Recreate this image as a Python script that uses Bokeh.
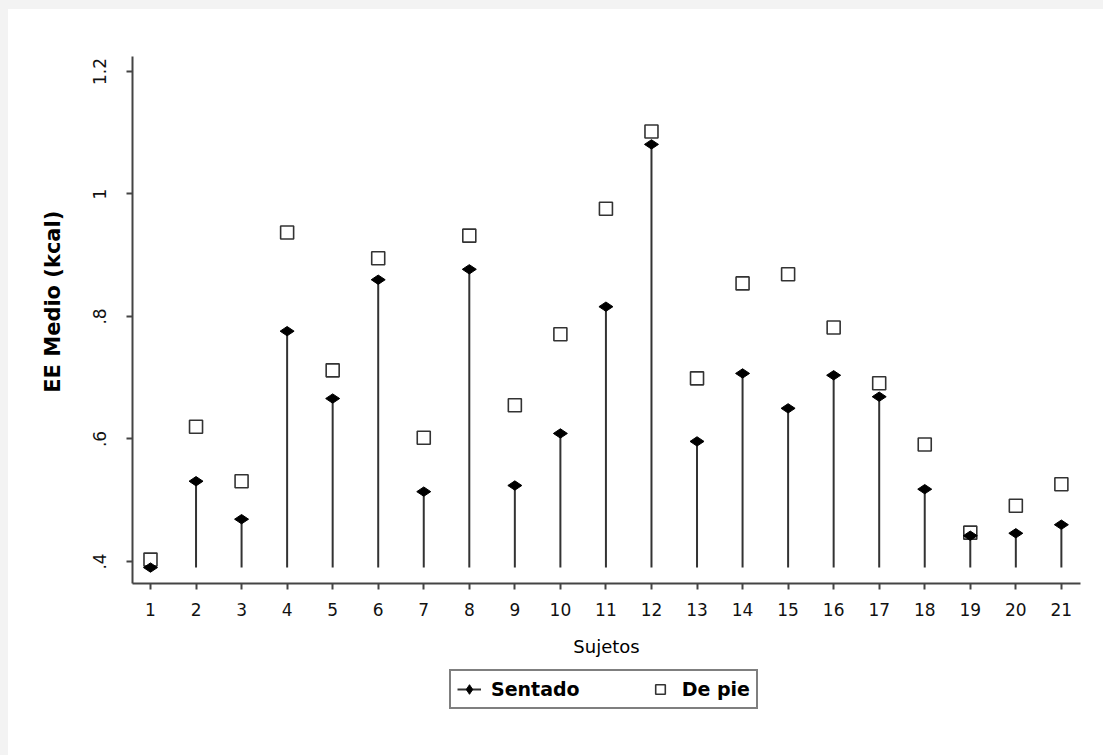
import numpy as np
from bokeh.plotting import figure
from bokeh.models import (ColumnDataSource, FixedTicker, CustomJSTickFormatter,
                          Legend, LegendItem, Range1d, Column)
from bokeh.embed import file_html
from bokeh.resources import INLINE

# ---- data ----
subjects = list(range(1, 22))
sentado = [0.390, 0.531, 0.469, 0.776, 0.666, 0.860, 0.514, 0.877, 0.524, 0.609, 0.816,
           1.081, 0.596, 0.707, 0.650, 0.704, 0.669, 0.518, 0.442, 0.446, 0.460]
de_pie = [0.403, 0.620, 0.531, 0.937, 0.712, 0.895, 0.602, 0.932, 0.655, 0.771, 0.976,
          1.102, 0.699, 0.854, 0.869, 0.782, 0.691, 0.591, 0.447, 0.491, 0.526]
y_ticks = [0.4, 0.6, 0.8, 1.0, 1.2]
x_ticks = subjects
series_names = ["Sentado", "De pie"]
x_title = "Sujetos"
y_title = "EE Medio (kcal)"

base = min(sentado)
src = ColumnDataSource(dict(x=subjects, sentado=sentado, de_pie=de_pie,
                            base=[base] * len(subjects)))

FONT = "DejaVu Sans"
SQ_STYLE = dict(marker="square", size=13, fill_color="white",
                line_color="#333333", line_width=1.6)
SEG_STYLE = dict(line_color="#333333", line_width=2)
DIA_STYLE = dict(marker="diamond", size=14, angle=np.pi / 2,
                 fill_color="black", line_color="black")

# ---- main chart ----
p = figure(width=1095, height=654, x_range=Range1d(0.605, 21.42),
           y_range=Range1d(0.364, 1.2245), output_backend="svg", toolbar_location=None,
           min_border_left=124, min_border_top=47, min_border_right=23,
           min_border_bottom=80, background_fill_color="white",
           border_fill_color="white", outline_line_color=None, margin=(9, 0, 0, 8))
p.xgrid.visible = False
p.ygrid.visible = False

p.scatter(x="x", y="de_pie", source=src, **SQ_STYLE)
p.segment(x0="x", y0="base", x1="x", y1="sentado", source=src, **SEG_STYLE)
p.scatter(x="x", y="sentado", source=src, **DIA_STYLE)

for ax in (p.xaxis[0], p.yaxis[0]):
    ax.axis_line_color = "#444444"
    ax.axis_line_width = 2
    ax.major_tick_line_color = "#444444"
    ax.major_tick_line_width = 2
    ax.major_tick_out = 6
    ax.major_tick_in = 0
    ax.minor_tick_line_color = None
    ax.major_label_text_font = FONT
    ax.major_label_text_font_size = "17px"
    ax.major_label_text_color = "#111111"
    ax.axis_label_text_font = FONT
    ax.axis_label_text_color = "#000000"

p.xaxis.ticker = FixedTicker(ticks=x_ticks, minor_ticks=[])
p.xaxis.major_label_standoff = 13
p.xaxis.axis_label = x_title
p.xaxis.axis_label_text_font_size = "18px"
p.xaxis.axis_label_text_font_style = "normal"
p.xaxis.axis_label_standoff = 17

p.yaxis.ticker = FixedTicker(ticks=y_ticks, minor_ticks=[])
p.yaxis.formatter = CustomJSTickFormatter(code="""
let s = tick.toFixed(1);
if (s.endsWith('.0')) s = s.slice(0, -2);
if (s.startsWith('0')) s = s.slice(1);
return s;
""")
p.yaxis.major_label_orientation = "vertical"
p.yaxis.major_label_standoff = 20
p.yaxis.axis_label = "\u00a0" * 5 + y_title
p.yaxis.axis_label_text_font_size = "21px"
p.yaxis.axis_label_text_font_style = "bold"
p.yaxis.axis_label_standoff = 26

# ---- legend strip below the chart (its frame aligns with the chart's) ----
# the proxy renderers reuse the real data, but the strip's ranges keep them out of view
lg = figure(width=1095, height=92, x_range=Range1d(0, 1), y_range=Range1d(5, 6),
            output_backend="svg", toolbar_location=None, min_border=0,
            background_fill_color="white", border_fill_color="white",
            outline_line_color=None, margin=(0, 0, 0, 8))
lg.axis.visible = False
lg.grid.visible = False
l_seg = lg.segment(x0="x", y0="base", x1="x", y1="sentado", source=src, **SEG_STYLE)
l_dia = lg.scatter(x="x", y="sentado", source=src, **DIA_STYLE)
l_sq = lg.scatter(x="x", y="de_pie", source=src, **SQ_STYLE)

legend = Legend(items=[LegendItem(label=series_names[0], renderers=[l_seg, l_dia]),
                       LegendItem(label=series_names[1], renderers=[l_sq])],
                orientation="horizontal", location=(317, 46),
                border_line_color="black", border_line_width=2,
                label_text_font=FONT, label_text_font_style="bold",
                label_text_font_size="19px", label_text_color="#000000",
                glyph_width=24, glyph_height=24,
                padding=6, spacing=68, label_standoff=10, margin=0,
                background_fill_color="white", background_fill_alpha=1)
lg.add_layout(legend, "center")

layout = Column(children=[p, lg],
                styles={"background-color": "white",
                        "box-shadow": "inset 8px 9px 0 0 #f3f3f3"})

open("out.html", "w").write(file_html(layout, INLINE))
